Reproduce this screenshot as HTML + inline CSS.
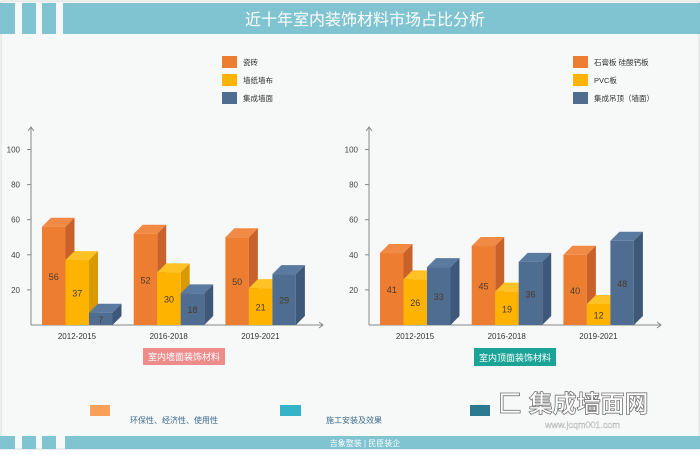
<!DOCTYPE html>
<html><head><meta charset="utf-8"><style>
body{margin:0;width:700px;height:450px;overflow:hidden;background:#fff;font-family:"Liberation Sans","Noto Sans CJK SC",sans-serif}
svg text{font-family:"Liberation Sans","Noto Sans CJK SC",sans-serif}
</style></head><body>
<svg id="s" width="700" height="450" viewBox="0 0 700 450" xmlns="http://www.w3.org/2000/svg">
<rect x="1" y="1" width="698" height="448" fill="#f7f8f8" stroke="#d8dcdc"/>
<g>
<rect x="0" y="3" width="15" height="31" fill="#7fc4d0"/><rect x="22" y="3" width="14" height="31" fill="#7fc4d0"/><rect x="42" y="3" width="14" height="31" fill="#7fc4d0"/><rect x="63" y="3" width="637" height="31" fill="#7fc4d0"/>
<text x="365" y="25" text-anchor="middle" font-size="16" fill="#fff">近十年室内装饰材料市场占比分析</text>
</g>
<g id="legL"></g>
<g id="legR"></g>
<g id="chartL"></g>
<g id="chartR"></g>
<rect x="143" y="348" width="82" height="17" fill="#ee8c8c"/>
<text x="184" y="360" text-anchor="middle" font-size="9" fill="#fff">室内墙面装饰材料</text>
<rect x="474" y="348" width="82" height="18" fill="#1aa396"/>
<text x="515" y="361" text-anchor="middle" font-size="9" fill="#fff">室内顶面装饰材料</text>
<g>
<rect x="90" y="405" width="20" height="11" fill="#f8a05a"/><text x="130" y="423" font-size="8" fill="#3d6b8a">环保性、经济性、使用性</text>
<rect x="280" y="405" width="21" height="11" fill="#35b3c7"/><text x="326" y="423" font-size="8" fill="#3d6b8a">施工安装及效果</text>
<rect x="470" y="405" width="20" height="11" fill="#2d7a90"/>
</g>
<g>
<text x="498" y="412" font-size="24" font-weight="bold" fill="#fff" stroke="#777" stroke-width="0.8">匚 集成墙面网</text>
<text x="545" y="428" font-size="9" fill="#fff" stroke="#999" stroke-width="0.3">www.jcqm001.com</text>
</g>
<g>
<rect x="0" y="436" width="15" height="13" fill="#7fc4d0"/><rect x="22" y="436" width="14" height="13" fill="#7fc4d0"/><rect x="42" y="436" width="14" height="13" fill="#7fc4d0"/><rect x="65" y="436" width="635" height="13" fill="#7fc4d0"/>
<text x="365" y="446" text-anchor="middle" font-size="8" fill="#fff">吉象整装 | 民臣装企</text>
</g>
</svg>
<script>
const categories=["2012-2015","2016-2018","2019-2021"];
const wallSeriesNames=["瓷砖","墙纸墙布","集成墙面"];
const wallTile=[56,52,50];
const wallPaper=[37,30,21];
const wallIntegrated=[7,18,29];
const ceilSeriesNames=["石膏板 硅酸钙板","PVC板","集成吊顶（墙面）"];
const ceilGypsum=[41,45,40];
const ceilPVC=[26,19,12];
const ceilIntegrated=[33,36,48];
const yTicks=[20,40,60,80,100];
const NS="http://www.w3.org/2000/svg";
const fronts=["#ed7d31","#fdb300","#4f6d91"],sides=["#c9622a","#d99a00","#3d5878"],tops=["#f08a45","#ffc226","#5b7aa0"];
function mk(p,t,a){const e=document.createElementNS(NS,t);for(const k in a)e.setAttribute(k,a[k]);p.appendChild(e);return e;}
function chart(id,ax,series){
 const g=document.getElementById(id);
 const y0=325,yScale=v=>y0-v*1.755,x0=ax;
 const ln=mk(g,'path',{d:`M${x0} ${y0}V127M${x0-3} 131L${x0} 127L${x0+3} 131M${x0} ${y0}H${x0+292}M${x0+288} ${y0-3}L${x0+292} ${y0}L${x0+288} ${y0+3}`,stroke:'#888',fill:'none','stroke-width':1});
 
 yTicks.forEach(t=>{const y=yScale(t);mk(g,'line',{x1:x0-4,x2:x0,y1:y,y2:y,stroke:'#888'});
  const tx=mk(g,'text',{x:x0-11,y:y+3,'text-anchor':'end','font-size':8,fill:'#444'});tx.textContent=t;
  });
 const xBand=c=>x0+11+c*91.7,bw=23.5,d=9;
 categories.forEach((c,ci)=>{
  const tx=mk(g,'text',{x:xBand(ci)+35,y:y0+14,'text-anchor':'middle','font-size':8,fill:'#333'});tx.textContent=c;
  
  series.forEach((s,si)=>{const v=s[ci],x=xBand(ci)+si*bw,y=yScale(v);
   const b=mk(g,'g',{});
   mk(b,'polygon',{points:`${x},${y} ${x+d},${y-d} ${x+bw+d},${y-d} ${x+bw},${y}`,fill:tops[si]});
   mk(b,'polygon',{points:`${x+bw},${y} ${x+bw+d},${y-d} ${x+bw+d},${y0-d} ${x+bw},${y0}`,fill:sides[si]});
   mk(b,'rect',{x:x,y:y,width:bw,height:y0-y,fill:fronts[si]});
   const lt=mk(b,'text',{x:x+bw/2,y:(y+y0)/2+4,'text-anchor':'middle','font-size':9,fill:'#4a3a2a'});lt.textContent=v;
  });
 });
}
function legend(id,x,names){const g=document.getElementById(id);
 names.forEach((n,i)=>{const y=56+i*18;const e=mk(g,'g',{});
  mk(e,'rect',{x:x,y:y,width:15,height:12,fill:fronts[i]});const t=mk(e,'text',{x:x+21,y:y+9,'font-size':7.5,fill:'#333'});t.textContent=n;});}
legend('legL',222,wallSeriesNames);legend('legR',573,ceilSeriesNames);
chart('chartL',31,[wallTile,wallPaper,wallIntegrated]);
chart('chartR',369,[ceilGypsum,ceilPVC,ceilIntegrated]);
</script>
</body></html>
